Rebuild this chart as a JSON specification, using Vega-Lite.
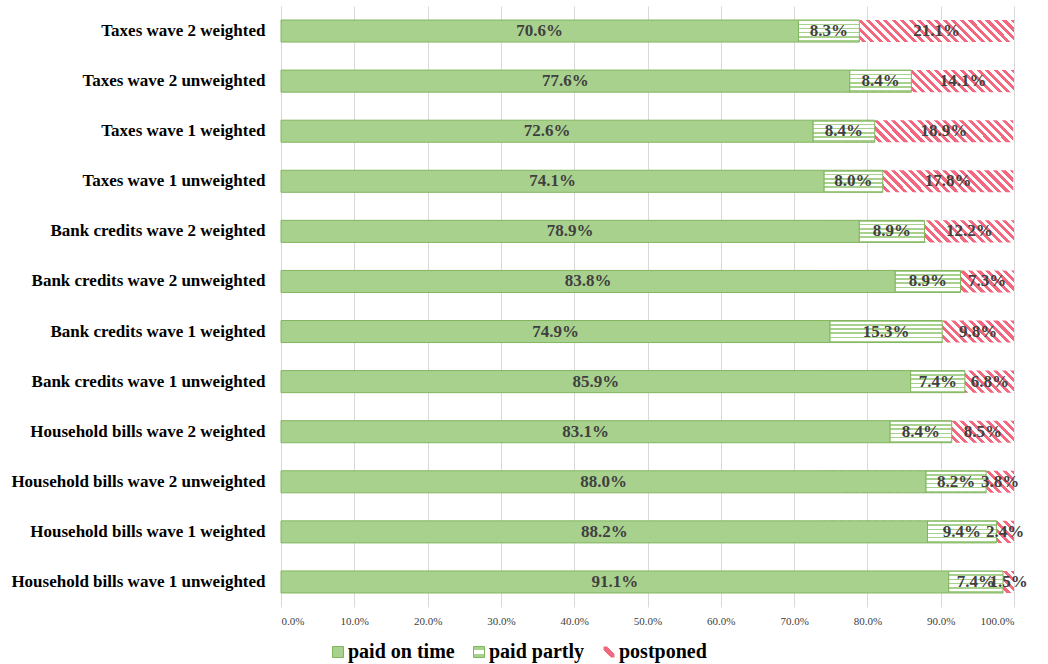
{
  "$schema": "https://vega.github.io/schema/vega-lite/v6.json",
  "width": 733,
  "height": 601,
  "autosize": {"type": "none"},
  "padding": {"left": 281, "top": 6, "right": 34, "bottom": 57},
  "config": {"view": {"stroke": null}, "font": "Liberation Serif"},
  "data": {"values": [
    {"category": "Taxes wave 2 weighted", "series": "paid on time", "value": 0.706},
    {"category": "Taxes wave 2 weighted", "series": "paid partly", "value": 0.083},
    {"category": "Taxes wave 2 weighted", "series": "postponed", "value": 0.211},
    {"category": "Taxes wave 2 unweighted", "series": "paid on time", "value": 0.776},
    {"category": "Taxes wave 2 unweighted", "series": "paid partly", "value": 0.084},
    {"category": "Taxes wave 2 unweighted", "series": "postponed", "value": 0.141},
    {"category": "Taxes wave 1 weighted", "series": "paid on time", "value": 0.726},
    {"category": "Taxes wave 1 weighted", "series": "paid partly", "value": 0.084},
    {"category": "Taxes wave 1 weighted", "series": "postponed", "value": 0.189},
    {"category": "Taxes wave 1 unweighted", "series": "paid on time", "value": 0.741},
    {"category": "Taxes wave 1 unweighted", "series": "paid partly", "value": 0.080},
    {"category": "Taxes wave 1 unweighted", "series": "postponed", "value": 0.178},
    {"category": "Bank credits wave 2 weighted", "series": "paid on time", "value": 0.789},
    {"category": "Bank credits wave 2 weighted", "series": "paid partly", "value": 0.089},
    {"category": "Bank credits wave 2 weighted", "series": "postponed", "value": 0.122},
    {"category": "Bank credits wave 2 unweighted", "series": "paid on time", "value": 0.838},
    {"category": "Bank credits wave 2 unweighted", "series": "paid partly", "value": 0.089},
    {"category": "Bank credits wave 2 unweighted", "series": "postponed", "value": 0.073},
    {"category": "Bank credits wave 1 weighted", "series": "paid on time", "value": 0.749},
    {"category": "Bank credits wave 1 weighted", "series": "paid partly", "value": 0.153},
    {"category": "Bank credits wave 1 weighted", "series": "postponed", "value": 0.098},
    {"category": "Bank credits wave 1 unweighted", "series": "paid on time", "value": 0.859},
    {"category": "Bank credits wave 1 unweighted", "series": "paid partly", "value": 0.074},
    {"category": "Bank credits wave 1 unweighted", "series": "postponed", "value": 0.068},
    {"category": "Household bills wave 2 weighted", "series": "paid on time", "value": 0.831},
    {"category": "Household bills wave 2 weighted", "series": "paid partly", "value": 0.084},
    {"category": "Household bills wave 2 weighted", "series": "postponed", "value": 0.085},
    {"category": "Household bills wave 2 unweighted", "series": "paid on time", "value": 0.880},
    {"category": "Household bills wave 2 unweighted", "series": "paid partly", "value": 0.082},
    {"category": "Household bills wave 2 unweighted", "series": "postponed", "value": 0.038},
    {"category": "Household bills wave 1 weighted", "series": "paid on time", "value": 0.882},
    {"category": "Household bills wave 1 weighted", "series": "paid partly", "value": 0.094},
    {"category": "Household bills wave 1 weighted", "series": "postponed", "value": 0.024},
    {"category": "Household bills wave 1 unweighted", "series": "paid on time", "value": 0.911},
    {"category": "Household bills wave 1 unweighted", "series": "paid partly", "value": 0.074},
    {"category": "Household bills wave 1 unweighted", "series": "postponed", "value": 0.015}
  ]},
  "transform": [
    {"stack": "value", "groupby": ["category"], "sort": [{"field": "series", "order": "ascending"}], "as": ["x0", "x1"]}
  ],
  "encoding": {
    "y": {
      "field": "category", "type": "nominal",
      "sort": ["Taxes wave 2 weighted", "Taxes wave 2 unweighted", "Taxes wave 1 weighted", "Taxes wave 1 unweighted", "Bank credits wave 2 weighted", "Bank credits wave 2 unweighted", "Bank credits wave 1 weighted", "Bank credits wave 1 unweighted", "Household bills wave 2 weighted", "Household bills wave 2 unweighted", "Household bills wave 1 weighted", "Household bills wave 1 unweighted"],
      "scale": {"paddingInner": 0.56, "paddingOuter": 0.28},
      "axis": {"title": null, "ticks": false, "domain": false, "grid": false, "labelFontSize": 17, "labelFontWeight": "bold", "labelColor": "#000000", "labelPadding": 16, "labelLimit": 0, "labelFont": "Liberation Serif"}
    }
  },
  "layer": [
    {
      "transform": [{"filter": "datum.series === 'postponed'"}],
      "mark": {"type": "bar", "strokeWidth": 0, "fill": {"gradient": "linear", "x1": 0, "y1": 0.03, "x2": 1, "y2": 0, "stops": [
                {"offset": 0, "color": "#ffffff"},
                {"offset": 0.7400, "color": "#ffffff"}, {"offset": 0.7400, "color": "#f4687f"}, {"offset": 0.7456, "color": "#f4687f"}, {"offset": 0.7456, "color": "#ffffff"},
                {"offset": 0.7516, "color": "#ffffff"}, {"offset": 0.7516, "color": "#f4687f"}, {"offset": 0.7572, "color": "#f4687f"}, {"offset": 0.7572, "color": "#ffffff"},
                {"offset": 0.7632, "color": "#ffffff"}, {"offset": 0.7632, "color": "#f4687f"}, {"offset": 0.7688, "color": "#f4687f"}, {"offset": 0.7688, "color": "#ffffff"},
                {"offset": 0.7748, "color": "#ffffff"}, {"offset": 0.7748, "color": "#f4687f"}, {"offset": 0.7804, "color": "#f4687f"}, {"offset": 0.7804, "color": "#ffffff"},
                {"offset": 0.7864, "color": "#ffffff"}, {"offset": 0.7864, "color": "#f4687f"}, {"offset": 0.7920, "color": "#f4687f"}, {"offset": 0.7920, "color": "#ffffff"},
                {"offset": 0.7980, "color": "#ffffff"}, {"offset": 0.7980, "color": "#f4687f"}, {"offset": 0.8036, "color": "#f4687f"}, {"offset": 0.8036, "color": "#ffffff"},
                {"offset": 0.8096, "color": "#ffffff"}, {"offset": 0.8096, "color": "#f4687f"}, {"offset": 0.8152, "color": "#f4687f"}, {"offset": 0.8152, "color": "#ffffff"},
                {"offset": 0.8212, "color": "#ffffff"}, {"offset": 0.8212, "color": "#f4687f"}, {"offset": 0.8268, "color": "#f4687f"}, {"offset": 0.8268, "color": "#ffffff"},
                {"offset": 0.8328, "color": "#ffffff"}, {"offset": 0.8328, "color": "#f4687f"}, {"offset": 0.8384, "color": "#f4687f"}, {"offset": 0.8384, "color": "#ffffff"},
                {"offset": 0.8444, "color": "#ffffff"}, {"offset": 0.8444, "color": "#f4687f"}, {"offset": 0.8500, "color": "#f4687f"}, {"offset": 0.8500, "color": "#ffffff"},
                {"offset": 0.8560, "color": "#ffffff"}, {"offset": 0.8560, "color": "#f4687f"}, {"offset": 0.8616, "color": "#f4687f"}, {"offset": 0.8616, "color": "#ffffff"},
                {"offset": 0.8676, "color": "#ffffff"}, {"offset": 0.8676, "color": "#f4687f"}, {"offset": 0.8732, "color": "#f4687f"}, {"offset": 0.8732, "color": "#ffffff"},
                {"offset": 0.8792, "color": "#ffffff"}, {"offset": 0.8792, "color": "#f4687f"}, {"offset": 0.8848, "color": "#f4687f"}, {"offset": 0.8848, "color": "#ffffff"},
                {"offset": 0.8908, "color": "#ffffff"}, {"offset": 0.8908, "color": "#f4687f"}, {"offset": 0.8964, "color": "#f4687f"}, {"offset": 0.8964, "color": "#ffffff"},
                {"offset": 0.9024, "color": "#ffffff"}, {"offset": 0.9024, "color": "#f4687f"}, {"offset": 0.9080, "color": "#f4687f"}, {"offset": 0.9080, "color": "#ffffff"},
                {"offset": 0.9140, "color": "#ffffff"}, {"offset": 0.9140, "color": "#f4687f"}, {"offset": 0.9196, "color": "#f4687f"}, {"offset": 0.9196, "color": "#ffffff"},
                {"offset": 0.9256, "color": "#ffffff"}, {"offset": 0.9256, "color": "#f4687f"}, {"offset": 0.9312, "color": "#f4687f"}, {"offset": 0.9312, "color": "#ffffff"},
                {"offset": 0.9372, "color": "#ffffff"}, {"offset": 0.9372, "color": "#f4687f"}, {"offset": 0.9428, "color": "#f4687f"}, {"offset": 0.9428, "color": "#ffffff"},
                {"offset": 0.9488, "color": "#ffffff"}, {"offset": 0.9488, "color": "#f4687f"}, {"offset": 0.9544, "color": "#f4687f"}, {"offset": 0.9544, "color": "#ffffff"},
                {"offset": 0.9604, "color": "#ffffff"}, {"offset": 0.9604, "color": "#f4687f"}, {"offset": 0.9660, "color": "#f4687f"}, {"offset": 0.9660, "color": "#ffffff"},
                {"offset": 0.9720, "color": "#ffffff"}, {"offset": 0.9720, "color": "#f4687f"}, {"offset": 0.9776, "color": "#f4687f"}, {"offset": 0.9776, "color": "#ffffff"},
                {"offset": 0.9836, "color": "#ffffff"}, {"offset": 0.9836, "color": "#f4687f"}, {"offset": 0.9892, "color": "#f4687f"}, {"offset": 0.9892, "color": "#ffffff"},
                {"offset": 0.9952, "color": "#ffffff"}, {"offset": 0.9952, "color": "#f4687f"}, {"offset": 1, "color": "#f4687f"}
              ]}},
      "encoding": {
        "x": {
          "field": "x1", "type": "quantitative", "stack": null,
          "scale": {"domain": [0, 1], "nice": false, "clamp": true},
          "axis": {"title": null, "values": [0, 0.1, 0.2, 0.3, 0.4, 0.5, 0.6, 0.7, 0.8, 0.9, 1], "format": ".1%", "grid": true, "gridColor": "#d9d9d9", "ticks": false, "domain": false, "labelFontSize": 11, "labelColor": "#404040", "labelPadding": 8, "labelFont": "Liberation Serif"}
        }
      }
    },
    {
      "transform": [{"filter": "datum.series !== 'postponed'"}],
      "mark": {"type": "bar", "strokeWidth": 1},
      "encoding": {
        "x": {"field": "x0", "type": "quantitative"},
        "x2": {"field": "x1"},
        "fill": {
          "condition": {"test": "datum.series === 'paid partly'", "value": {"gradient": "linear", "x1": 0, "y1": 0, "x2": 0, "y2": 1, "stops": [
                {"offset": 0, "color": "#a9d18e"}, {"offset": 0.06, "color": "#a9d18e"},
                {"offset": 0.06, "color": "#ffffff"}, {"offset": 0.16, "color": "#ffffff"},
                {"offset": 0.16, "color": "#a9d18e"}, {"offset": 0.23, "color": "#a9d18e"},
                {"offset": 0.23, "color": "#ffffff"}, {"offset": 0.35, "color": "#ffffff"},
                {"offset": 0.35, "color": "#a9d18e"}, {"offset": 0.42, "color": "#a9d18e"},
                {"offset": 0.42, "color": "#ffffff"}, {"offset": 0.54, "color": "#ffffff"},
                {"offset": 0.54, "color": "#a9d18e"}, {"offset": 0.61, "color": "#a9d18e"},
                {"offset": 0.61, "color": "#ffffff"}, {"offset": 0.73, "color": "#ffffff"},
                {"offset": 0.73, "color": "#a9d18e"}, {"offset": 0.80, "color": "#a9d18e"},
                {"offset": 0.80, "color": "#ffffff"}, {"offset": 0.92, "color": "#ffffff"},
                {"offset": 0.92, "color": "#a9d18e"}, {"offset": 1, "color": "#a9d18e"}
              ]}},
          "value": "#a9d18e"
        },
        "stroke": {
          "field": "series", "type": "nominal",
          "scale": {"domain": ["paid on time", "paid partly", "postponed"], "range": ["#80b65f", "#80b65f", "transparent"]},
          "legend": {
            "title": null, "orient": "none", "direction": "horizontal",
            "legendX": 47, "legendY": 636,
            "symbolType": "square", "symbolSize": 121, "symbolStrokeWidth": 1,
            "labelFontSize": 20, "labelFontWeight": "bold", "labelColor": "#000000", "labelFont": "Liberation Serif",
            "labelOffset": 0, "columnPadding": 14,
            "encoding": {"symbols": {
              "fill": {
                "condition": [
                  {"test": "datum.value === 'postponed'", "value": {"gradient": "linear", "x1": 0, "y1": 1, "x2": 1, "y2": 0, "stops": [
                    {"offset": 0, "color": "#ffffff"}, {"offset": 0.33, "color": "#ffffff"}, {"offset": 0.33, "color": "#f4687f"}, {"offset": 0.67, "color": "#f4687f"}, {"offset": 0.67, "color": "#ffffff"}, {"offset": 1, "color": "#ffffff"}
                  ]}},
                  {"test": "datum.value === 'paid partly'", "value": {"gradient": "linear", "x1": 0, "y1": 0, "x2": 0, "y2": 1, "stops": [
                    {"offset": 0, "color": "#a9d18e"}, {"offset": 0.36, "color": "#a9d18e"}, {"offset": 0.36, "color": "#ffffff"}, {"offset": 0.64, "color": "#ffffff"}, {"offset": 0.64, "color": "#a9d18e"}, {"offset": 1, "color": "#a9d18e"}
                  ]}}
                ],
                "value": "#a9d18e"
              },
              "opacity": {"value": 1}
            }}
          }
        }
      }
    },
    {
      "transform": [{"calculate": "(datum.x0 + datum.x1) / 2", "as": "mid"}],
      "mark": {"type": "text", "font": "Liberation Serif", "fontSize": 17, "fontWeight": "bold", "color": "#404040", "align": "center", "baseline": "middle"},
      "encoding": {
        "x": {"field": "mid", "type": "quantitative"},
        "text": {"field": "value", "type": "quantitative", "format": ".1%"}
      }
    }
  ]
}
